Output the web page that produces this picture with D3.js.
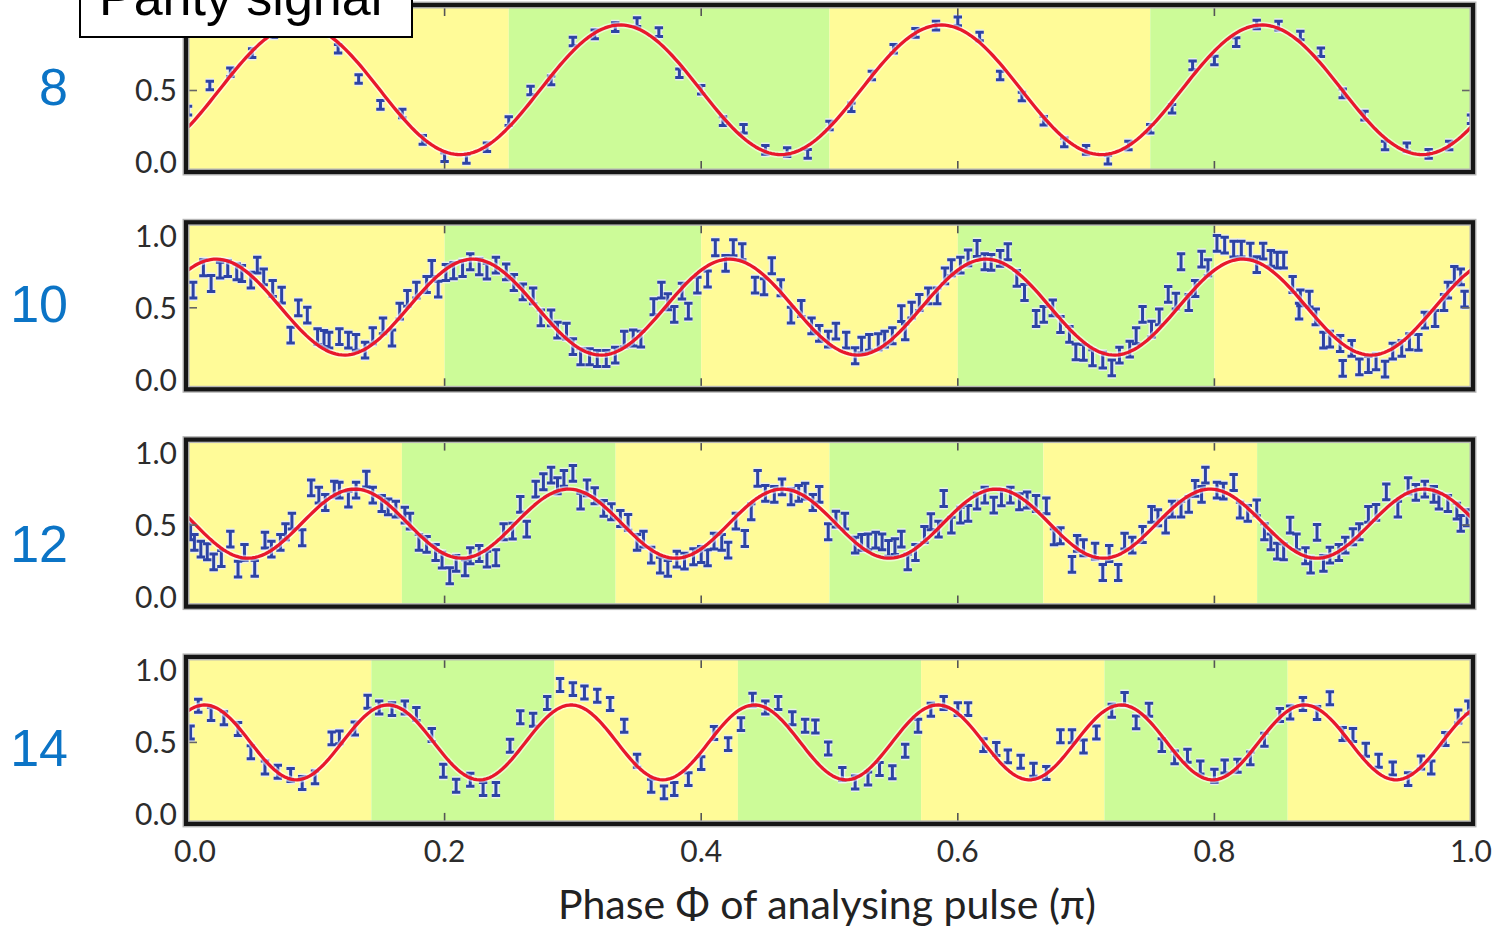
<!DOCTYPE html>
<html>
<head>
<meta charset="utf-8">
<script src="https://cdn.jsdelivr.net/npm/d3@7"></script>
<style>
  html, body { margin: 0; padding: 0; background: #ffffff; }
  svg { display: block; }
</style>
</head>
<body>
<svg id="chart" width="1497" height="927"></svg>
<script>
// ---- data -----------------------------------------------------------------
// Number of ions in each row
const ionCounts = [8, 10, 12, 14];

// Measured parity vs. analysing phase (units of pi)
const phase8 = [0, 0.017, 0.033, 0.05, 0.067, 0.083, 0.1, 0.117, 0.133, 0.15, 0.167, 0.183, 0.2, 0.217, 0.233, 0.25, 0.267, 0.283, 0.3, 0.317, 0.333, 0.35, 0.367, 0.383, 0.4, 0.417, 0.433, 0.45, 0.467, 0.483, 0.5, 0.517, 0.533, 0.55, 0.567, 0.583, 0.6, 0.617, 0.633, 0.65, 0.667, 0.683, 0.7, 0.717, 0.733, 0.75, 0.767, 0.783, 0.8, 0.817, 0.833, 0.85, 0.867, 0.883, 0.9, 0.917, 0.933, 0.95, 0.967, 0.983, 1];
const parity8 = [0.36, 0.535, 0.627, 0.76, 0.9, 0.95, 0.94, 0.79, 0.58, 0.40, 0.34, 0.157, 0.037, 0.025, 0.106, 0.287, 0.50, 0.57, 0.84, 0.89, 0.94, 0.975, 0.905, 0.62, 0.505, 0.287, 0.234, 0.088, 0.072, 0.06, 0.257, 0.384, 0.604, 0.79, 0.90, 0.951, 0.98, 0.875, 0.604, 0.458, 0.29, 0.14, 0.088, 0.019, 0.118, 0.234, 0.373, 0.674, 0.708, 0.836, 0.958, 0.951, 0.882, 0.766, 0.48, 0.326, 0.118, 0.106, 0.06, 0.118, 0.30];

const phase10 = [
  0.004, 0.012, 0.018, 0.025, 0.031, 0.038, 0.042, 0.049, 0.054, 0.059,
  0.066, 0.073, 0.080, 0.086, 0.093, 0.101, 0.106, 0.110, 0.118, 0.125,
  0.131, 0.138, 0.144, 0.152, 0.159, 0.165, 0.171, 0.178, 0.186, 0.190,
  0.195, 0.201, 0.207, 0.214, 0.220, 0.227, 0.233, 0.240, 0.248, 0.254,
  0.261, 0.269, 0.275, 0.283, 0.288, 0.295, 0.300, 0.306, 0.313, 0.319,
  0.326, 0.333, 0.340, 0.347, 0.353, 0.363, 0.369, 0.374, 0.379, 0.385,
  0.390, 0.397, 0.405, 0.411, 0.419, 0.425, 0.432, 0.442, 0.449, 0.455,
  0.462, 0.470, 0.478, 0.486, 0.492, 0.499,
  0.505, 0.513, 0.520, 0.525, 0.531, 0.538, 0.543, 0.549, 0.556, 0.559,
  0.564, 0.570, 0.577, 0.584, 0.590, 0.595, 0.602, 0.608, 0.615, 0.621,
  0.626, 0.633, 0.639, 0.646, 0.652, 0.661, 0.667, 0.674, 0.680, 0.687,
  0.692, 0.698, 0.705, 0.713, 0.720, 0.726, 0.734, 0.739, 0.744, 0.751,
  0.757, 0.764, 0.770, 0.774, 0.780, 0.785, 0.790, 0.795, 0.802, 0.808,
  0.815, 0.821, 0.828, 0.833, 0.838, 0.844, 0.849, 0.854, 0.861, 0.866,
  0.867, 0.874, 0.879, 0.885, 0.890, 0.898, 0.900, 0.907, 0.913, 0.920,
  0.926, 0.933, 0.939, 0.946, 0.952, 0.959, 0.964, 0.972, 0.979, 0.982,
  0.987, 0.992, 0.995];
const parity10 = [
  0.623, 0.778, 0.669, 0.762, 0.773, 0.750, 0.738, 0.692, 0.796, 0.715,
  0.634, 0.588, 0.310, 0.500, 0.449, 0.300, 0.287, 0.275, 0.300, 0.275,
  0.260, 0.206, 0.306, 0.375, 0.290, 0.477, 0.565, 0.623, 0.662, 0.773,
  0.630, 0.745, 0.757, 0.773, 0.820, 0.785, 0.755, 0.796, 0.750, 0.676,
  0.611, 0.583, 0.430, 0.430, 0.345, 0.338, 0.230, 0.160, 0.160, 0.148,
  0.148, 0.171, 0.282, 0.290, 0.282, 0.507, 0.623, 0.542, 0.454, 0.616,
  0.477, 0.657, 0.700, 0.917, 0.808, 0.917, 0.889, 0.657, 0.646, 0.792,
  0.639, 0.449, 0.495, 0.375, 0.322, 0.282,
  0.338, 0.275, 0.167, 0.241, 0.260, 0.264, 0.282, 0.306, 0.460, 0.333,
  0.484, 0.537, 0.583, 0.583, 0.722, 0.778, 0.796, 0.847, 0.912, 0.820,
  0.815, 0.843, 0.889, 0.704, 0.606, 0.426, 0.454, 0.500, 0.384, 0.315,
  0.194, 0.190, 0.153, 0.137, 0.083, 0.171, 0.213, 0.306, 0.454, 0.352,
  0.437, 0.593, 0.546, 0.820, 0.537, 0.634, 0.838, 0.778, 0.947, 0.935,
  0.907, 0.907, 0.894, 0.800, 0.894, 0.843, 0.831, 0.831, 0.662, 0.477,
  0.569, 0.560, 0.437, 0.275, 0.282, 0.252, 0.079, 0.218, 0.090, 0.106,
  0.125, 0.074, 0.199, 0.218, 0.264, 0.260, 0.414, 0.426, 0.537, 0.623,
  0.731, 0.715, 0.560];

const phase12 = [
  0.002, 0.005, 0.010, 0.015, 0.020, 0.026, 0.033, 0.039, 0.044, 0.052,
  0.060, 0.065, 0.072, 0.076, 0.081, 0.089, 0.096, 0.102, 0.107, 0.114,
  0.118, 0.125, 0.131, 0.139, 0.144, 0.151, 0.156, 0.162, 0.169, 0.173,
  0.180, 0.186, 0.193, 0.198, 0.204, 0.209, 0.216, 0.220, 0.227, 0.233,
  0.240, 0.246, 0.253, 0.259, 0.264, 0.271, 0.277, 0.283, 0.288, 0.293,
  0.300, 0.306, 0.311, 0.317, 0.324, 0.330, 0.337, 0.343, 0.350, 0.355,
  0.361, 0.368, 0.374, 0.381, 0.387, 0.394, 0.400, 0.405, 0.410, 0.416,
  0.421, 0.427, 0.434, 0.439, 0.444, 0.450, 0.457, 0.463, 0.470, 0.476,
  0.481, 0.487, 0.492, 0.499,
  0.505, 0.512, 0.520, 0.525, 0.530, 0.536, 0.541, 0.546, 0.551, 0.556,
  0.561, 0.567, 0.574, 0.579, 0.585, 0.589, 0.595, 0.602, 0.608, 0.615,
  0.621, 0.628, 0.634, 0.641, 0.648, 0.654, 0.661, 0.669, 0.675, 0.680,
  0.689, 0.693, 0.698, 0.707, 0.713, 0.718, 0.725, 0.730, 0.736, 0.744,
  0.751, 0.756, 0.762, 0.767, 0.774, 0.780, 0.785, 0.790, 0.793, 0.802,
  0.807, 0.815, 0.820, 0.826, 0.833, 0.839, 0.844, 0.849, 0.854, 0.859,
  0.864, 0.871, 0.875, 0.880, 0.885, 0.890, 0.897, 0.902, 0.908, 0.913,
  0.920, 0.926, 0.934, 0.943, 0.951, 0.957, 0.964, 0.971, 0.975, 0.982,
  0.989, 0.992, 0.997];
const parity12 = [
  0.454, 0.380, 0.333, 0.315, 0.245, 0.268, 0.403, 0.194, 0.310, 0.200,
  0.396, 0.333, 0.380, 0.454, 0.528, 0.412, 0.759, 0.708, 0.657, 0.750,
  0.743, 0.680, 0.743, 0.819, 0.708, 0.650, 0.627, 0.611, 0.569, 0.528,
  0.380, 0.366, 0.310, 0.257, 0.148, 0.234, 0.204, 0.287, 0.303, 0.264,
  0.273, 0.454, 0.458, 0.644, 0.472, 0.750, 0.801, 0.847, 0.773, 0.824,
  0.859, 0.667, 0.759, 0.704, 0.616, 0.593, 0.546, 0.519, 0.380, 0.403,
  0.292, 0.222, 0.200, 0.264, 0.250, 0.280, 0.296, 0.273, 0.389, 0.380,
  0.326, 0.528, 0.407, 0.593, 0.824, 0.720, 0.713, 0.766, 0.697, 0.720,
  0.736, 0.657, 0.713, 0.454,
  0.542, 0.528, 0.361, 0.380, 0.384, 0.396, 0.384, 0.338, 0.350, 0.403,
  0.245, 0.310, 0.435, 0.523, 0.472, 0.685, 0.500, 0.569, 0.581, 0.667,
  0.708, 0.639, 0.690, 0.708, 0.662, 0.674, 0.650, 0.634, 0.419, 0.426,
  0.227, 0.373, 0.343, 0.319, 0.171, 0.303, 0.171, 0.389, 0.361, 0.435,
  0.574, 0.551, 0.500, 0.611, 0.611, 0.644, 0.755, 0.713, 0.847, 0.743,
  0.736, 0.796, 0.604, 0.581, 0.620, 0.454, 0.384, 0.319, 0.315, 0.500,
  0.384, 0.287, 0.222, 0.449, 0.234, 0.292, 0.310, 0.361, 0.419, 0.454,
  0.574, 0.588, 0.731, 0.611, 0.773, 0.727, 0.750, 0.713, 0.667, 0.650,
  0.597, 0.512, 0.551];

const phase14 = [
  0.002, 0.008, 0.018, 0.028, 0.039, 0.049, 0.060, 0.070, 0.080, 0.089,
  0.099, 0.112, 0.118, 0.130, 0.140, 0.149, 0.159, 0.169, 0.178, 0.190,
  0.199, 0.209, 0.220, 0.230, 0.240, 0.251, 0.259, 0.269, 0.280, 0.290,
  0.300, 0.309, 0.319, 0.329, 0.340, 0.350, 0.361, 0.371, 0.379, 0.390,
  0.400, 0.410, 0.421, 0.431, 0.440, 0.450, 0.460, 0.471, 0.481, 0.489,
  0.499,
  0.510, 0.520, 0.530, 0.539, 0.549, 0.559, 0.569, 0.579, 0.589, 0.600,
  0.608, 0.620, 0.630, 0.639, 0.649, 0.659, 0.669, 0.680, 0.689, 0.698,
  0.708, 0.720, 0.730, 0.739, 0.749, 0.759, 0.769, 0.779, 0.789, 0.800,
  0.808, 0.818, 0.828, 0.839, 0.851, 0.859, 0.869, 0.880, 0.890, 0.900,
  0.908, 0.918, 0.928, 0.939, 0.951, 0.961, 0.969, 0.980, 0.990, 0.998];
const parity14 = [
  0.569, 0.755, 0.697, 0.667, 0.593, 0.431, 0.326, 0.296, 0.273, 0.218,
  0.257, 0.528, 0.535, 0.597, 0.782, 0.743, 0.731, 0.743, 0.697, 0.551,
  0.303, 0.199, 0.241, 0.176, 0.176, 0.477, 0.674, 0.657, 0.773, 0.898,
  0.870, 0.847, 0.824, 0.766, 0.616, 0.373, 0.199, 0.153, 0.176, 0.245,
  0.356, 0.565, 0.488, 0.627, 0.796, 0.743, 0.773, 0.667, 0.616, 0.611,
  0.458,
  0.280, 0.222, 0.250, 0.315, 0.292, 0.442, 0.616, 0.727, 0.773, 0.731,
  0.731, 0.481, 0.454, 0.403, 0.366, 0.310, 0.287, 0.542, 0.542, 0.472,
  0.569, 0.720, 0.801, 0.639, 0.727, 0.481, 0.396, 0.407, 0.326, 0.269,
  0.333, 0.338, 0.389, 0.519, 0.690, 0.708, 0.766, 0.704, 0.806, 0.558,
  0.551, 0.449, 0.373, 0.319, 0.245, 0.361, 0.326, 0.523, 0.680, 0.743];

// Half-length of the error bars in each row
const errorBar = [0.03, 0.055, 0.055, 0.045];

// Sinusoidal fit: offset + amplitude * cos(N*pi*(phi - peak))
const fitOffset = [0.505, 0.505, 0.51, 0.50];
const fitAmplitude = [0.45, 0.333, 0.24, 0.26];
const fitPeak = [0.087, 0.022, 0.13, 0.013];

// Alternating background bands (edges in units of pi)
const bands8 = [0, 0.25, 0.5, 0.75, 1];
const bands10 = [0, 0.2, 0.4, 0.6, 0.8, 1];
const bands12 = [0, 0.1667, 0.3333, 0.5, 0.6667, 0.8333, 1];
const bands14 = [0, 0.1429, 0.2857, 0.4286, 0.5714, 0.7143, 0.8571, 1];

const xTickValues = [0, 0.2, 0.4, 0.6, 0.8, 1.0];
// the top row's 1.0 label sits under the title box, so it is left out there
const yTickValues8 = [0, 0.5];
const yTickValues = [0, 0.5, 1.0];

const phases = [phase8, phase10, phase12, phase14];
const parities = [parity8, parity10, parity12, parity14];
const bandSets = [bands8, bands10, bands12, bands14];
const yTickSets = [yTickValues8, yTickValues, yTickValues, yTickValues];

// ---- drawing ---------------------------------------------------------------
const svg = d3.select("#chart");
const bandFill = ["#fffb98", "#ccfb98"];
const tickFont = "Lato, 'DejaVu Sans', sans-serif";

const x = d3.scaleLinear().domain([0, 1]).range([188, 1471]);
const frameH = 167;
const panelTop = i => 5 + 217.3 * i;
const rowLabelBaseline = [105, 322, 562, 766];

ionCounts.forEach((n, i) => {
  const top = panelTop(i);
  const bottom = top + frameH;
  const y = d3.scaleLinear().domain([0, 1]).range([bottom - 9.5, bottom - 153.5]);
  const g = svg.append("g");

  const clipId = "clip" + i;
  svg.append("clipPath").attr("id", clipId)
    .append("rect").attr("x", x(0) - 1).attr("y", top).attr("width", x(1) - x(0) + 2).attr("height", frameH);

  const plot = g.append("g").attr("clip-path", `url(#${clipId})`);

  // background bands
  const edges = bandSets[i];
  plot.selectAll("rect.band")
    .data(d3.pairs(edges))
    .join("rect")
    .attr("class", "band")
    .attr("x", d => x(d[0]))
    .attr("y", top)
    .attr("width", d => x(d[1]) - x(d[0]))
    .attr("height", frameH)
    .attr("fill", (d, k) => bandFill[k % 2]);

  // error-bar glyphs
  const pts = phases[i].map((p, k) => ({ p, v: parities[i][k] }));
  const e = errorBar[i];
  const cap = 4.2;
  const glyph = d => {
    const cx = x(d.p), y1 = y(d.v + e), y2 = y(d.v - e);
    return `M${cx - cap},${y1}H${cx + cap}M${cx},${y1}V${y2}M${cx - cap},${y2}H${cx + cap}`;
  };
  plot.append("g").selectAll("path")
    .data(pts).join("path")
    .attr("d", glyph)
    .attr("fill", "none")
    .attr("stroke", "#e9ecfa")
    .attr("stroke-width", 6)
    .attr("stroke-opacity", 0.85);
  plot.append("g").selectAll("path")
    .data(pts).join("path")
    .attr("d", glyph)
    .attr("fill", "none")
    .attr("stroke", "#2d43a5")
    .attr("stroke-width", 3);

  // fitted curve
  const fit = phi => fitOffset[i] + fitAmplitude[i] * Math.cos(n * Math.PI * (phi - fitPeak[i]));
  const curvePhases = d3.range(0, 1.0001, 0.0025);
  const line = d3.line().x(p => x(p)).y(p => y(fit(p))).curve(d3.curveLinear);
  plot.append("path").datum(curvePhases)
    .attr("d", line).attr("fill", "none")
    .attr("stroke", "#ffffff").attr("stroke-opacity", 0.55).attr("stroke-width", 6.5);
  plot.append("path").datum(curvePhases)
    .attr("d", line).attr("fill", "none")
    .attr("stroke", "#e8182c").attr("stroke-width", 3.3)
    .attr("stroke-linejoin", "round");

  // inner ticks
  const inner = [0.2, 0.4, 0.6, 0.8];
  g.selectAll("line.xt-top").data(inner).join("line")
    .attr("x1", d => x(d)).attr("x2", d => x(d))
    .attr("y1", top + 2).attr("y2", top + 11)
    .attr("stroke", "#555").attr("stroke-width", 1.6);
  g.selectAll("line.xt-bot").data(inner).join("line")
    .attr("x1", d => x(d)).attr("x2", d => x(d))
    .attr("y1", bottom - 2).attr("y2", bottom - 11)
    .attr("stroke", "#555").attr("stroke-width", 1.6);
  g.append("line").attr("x1", x(0)).attr("x2", x(0) + 9)
    .attr("y1", y(0.5)).attr("y2", y(0.5)).attr("stroke", "#666").attr("stroke-width", 1.6);
  g.append("line").attr("x1", x(1)).attr("x2", x(1) - 9)
    .attr("y1", y(0.5)).attr("y2", y(0.5)).attr("stroke", "#666").attr("stroke-width", 1.6);

  // frame
  g.append("rect")
    .attr("x", 186).attr("y", top).attr("width", 1287).attr("height", frameH)
    .attr("fill", "none").attr("stroke", "#b5b5b5").attr("stroke-width", 7);
  g.append("rect")
    .attr("x", 186).attr("y", top).attr("width", 1287).attr("height", frameH)
    .attr("fill", "none").attr("stroke", "#161616").attr("stroke-width", 4.2);

  // y tick labels
  g.selectAll("text.ytl").data(yTickSets[i]).join("text")
    .attr("x", 177).attr("y", d => y(d))
    .attr("dy", "0.36em")
    .attr("text-anchor", "end")
    .attr("font-family", tickFont).attr("font-size", 30)
    .attr("fill", "#2c2c2c")
    .text(d => d3.format(".1f")(d));

  // row label (ion number)
  svg.append("text")
    .attr("x", 68).attr("y", rowLabelBaseline[i])
    .attr("text-anchor", "end")
    .attr("font-family", "'Liberation Sans', Arial, sans-serif")
    .attr("font-size", 52)
    .attr("fill", "#0b74c6")
    .text(n);
});

// x tick labels under the last panel
svg.append("g").selectAll("text").data(xTickValues).join("text")
  .attr("x", d => x(d) + (d === 0 ? 7 : 0))
  .attr("y", 862)
  .attr("text-anchor", "middle")
  .attr("font-family", tickFont).attr("font-size", 30)
  .attr("fill", "#2c2c2c")
  .text(d => d3.format(".1f")(d));

// x axis title
svg.append("text")
  .attr("x", 827).attr("y", 919)
  .attr("text-anchor", "middle")
  .attr("font-family", tickFont).attr("font-size", 41)
  .attr("fill", "#222")
  .text("Phase \u03A6 of analysing pulse (\u03C0)");

// boxed title at top-left
svg.append("rect")
  .attr("x", 80).attr("y", -4).attr("width", 332).attr("height", 41)
  .attr("fill", "#ffffff").attr("stroke", "#000").attr("stroke-width", 2);
svg.append("text")
  .attr("x", 99).attr("y", 15)
  .attr("font-family", "'Liberation Sans', Arial, sans-serif")
  .attr("font-size", 52)
  .attr("fill", "#000")
  .text("Parity signal");
</script>
</body>
</html>
